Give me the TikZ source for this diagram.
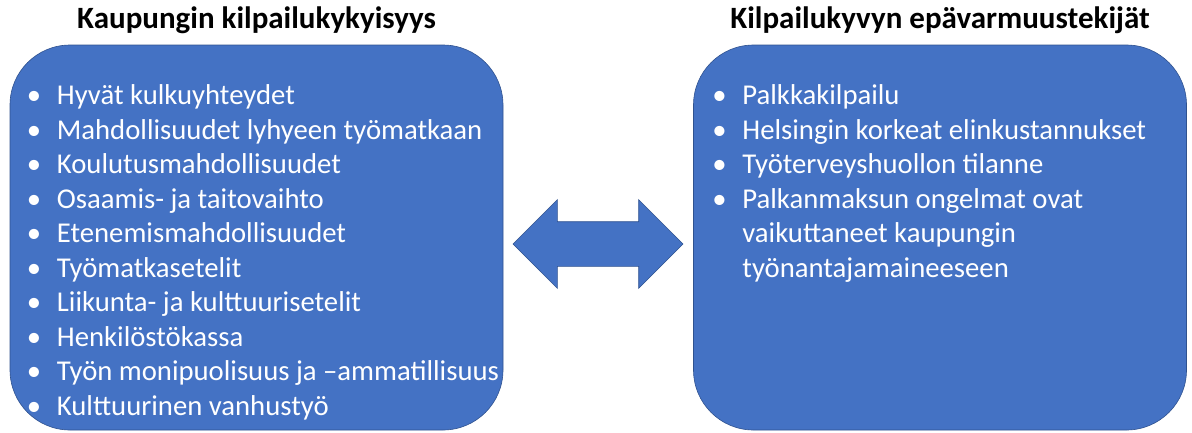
\documentclass[tikz,border=0pt]{standalone}
\usepackage{fontspec}
\setmainfont{Carlito}
\usetikzlibrary{positioning, shapes.arrows}
\definecolor{boxblue}{HTML}{4472C4}
\definecolor{boxline}{HTML}{2F528F}
\newcommand{\bul}{\makebox[30pt][l]{•}}
\newcommand{\cont}{\hspace*{30pt}}

\begin{document}
\begin{tikzpicture}[x=1pt, y=-1pt,
          box/.style={rectangle, rounded corners=60pt, draw=boxline, line width=0.6pt, fill=boxblue, minimum width=493pt, minimum height=385pt},
          title/.style={font=\fontsize{31}{36}\selectfont\bfseries, text=black, inner sep=0pt},
          items/.style={font=\fontsize{28.7}{34.5}\selectfont, text=white, align=left, inner sep=0pt},
          twoway/.style={double arrow, double arrow head extend=22pt, double arrow tip angle=90, fill=boxblue, draw=boxline, line width=0.6pt, minimum height=170pt, inner xsep=0pt, inner ysep=22pt}
        ]
          \useasboundingbox (0,0) rectangle (1192,432);

          \node[box] (leftbox) at (256.5,237.5) {};
          \node[box] (rightbox) at (940,237.5) {};
          \node[twoway] (link) at (598,244) {};

          \node[title, above=11pt of leftbox] (lefttitle) {Kaupungin kilpailukykyisyys};
          \node[title, above=11pt of rightbox] (righttitle) {Kilpailukyvyn epävarmuustekijät};

          \node[items, below right=40pt and 17pt of leftbox.north west] (leftlist) {%
            \bul Hyvät kulkuyhteydet\\
            \bul Mahdollisuudet lyhyeen työmatkaan\\
            \bul Koulutusmahdollisuudet\\
            \bul Osaamis- ja taitovaihto\\
            \bul Etenemismahdollisuudet\\
            \bul Työmatkasetelit\\
            \bul Liikunta- ja kulttuurisetelit\\
            \bul Henkilöstökassa\\
            \bul Työn monipuolisuus ja –ammatillisuus\\
            \bul Kulttuurinen vanhustyö};
          \node[items, below right=40pt and 19pt of rightbox.north west] (rightlist) {%
            \bul Palkkakilpailu\\
            \bul Helsingin korkeat elinkustannukset\\
            \bul Työterveyshuollon tilanne\\
            \bul Palkanmaksun ongelmat ovat\\
            \cont vaikuttaneet kaupungin\\
            \cont työnantajamaineeseen};
        \end{tikzpicture}
\end{document}
